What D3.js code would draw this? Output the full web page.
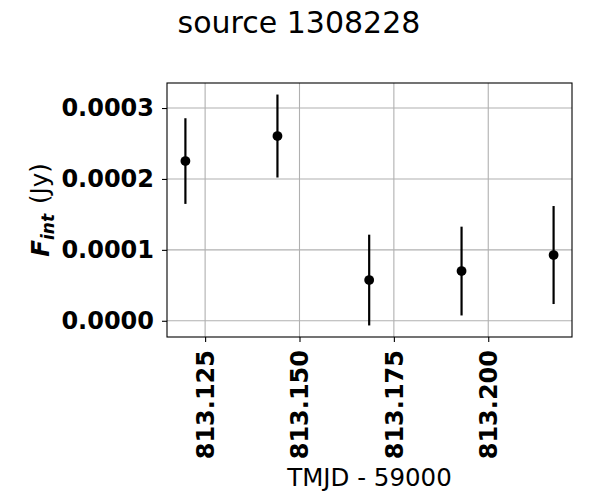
<!DOCTYPE html>
<html>
<head>
<meta charset="utf-8">
<script src="https://cdn.jsdelivr.net/npm/d3@7"></script>
<style>
  body { margin: 0; background: #fff; }
  svg, svg text { font-family: "DejaVu Sans", sans-serif; }
</style>
</head>
<body>
<script>
// data (time in TMJD - 59000, flux in Jy)
var times  = [813.11978, 813.14416, 813.16846, 813.19293, 813.21731];
var fluxes = [0.0002252, 0.0002605, 0.0000574, 0.0000701, 0.0000927];
var errors = [0.0000604, 0.0000585, 0.0000640, 0.0000626, 0.0000691];
var xTicks = [813.125, 813.150, 813.175, 813.200];
var yTicks = [0.0000, 0.0001, 0.0002, 0.0003];

var data = times.map(function(t, i) {
  return {t: t, f: fluxes[i], e: errors[i]};
});

// set the dimensions and margins of the graph
var full_width = 600, full_height = 500;
var margin = {top: 83, right: 28, bottom: 163, left: 167};
var width = full_width - margin.left - margin.right,
    height = full_height - margin.top - margin.bottom;

var svg = d3.select("body").append("svg")
  .attr("width", full_width)
  .attr("height", full_height);

var g = svg.append("g")
  .attr("transform", "translate(" + margin.left + "," + margin.top + ")");

// matplotlib style 5% padding
var xMin = d3.min(times), xMax = d3.max(times);
var xPad = (xMax - xMin) * 0.05;
var yMin = d3.min(data, function(d) { return d.f - d.e; });
var yMax = d3.max(data, function(d) { return d.f + d.e; });
var yPad = (yMax - yMin) * 0.05;

var x = d3.scaleLinear().domain([xMin - xPad, xMax + xPad]).range([0, width]);
var y = d3.scaleLinear().domain([yMin - yPad, yMax + yPad]).range([height, 0]);

// grid
g.append("g").selectAll("line").data(xTicks).enter().append("line")
  .attr("x1", function(d) { return x(d); }).attr("x2", function(d) { return x(d); })
  .attr("y1", 0).attr("y2", height)
  .attr("stroke", "#b0b0b0").attr("stroke-width", 1.1);
g.append("g").selectAll("line").data(yTicks).enter().append("line")
  .attr("y1", function(d) { return y(d); }).attr("y2", function(d) { return y(d); })
  .attr("x1", 0).attr("x2", width)
  .attr("stroke", "#b0b0b0").attr("stroke-width", 1.1);

// axes
var x_axis = d3.axisBottom(x).tickValues(xTicks).tickFormat(d3.format(".3f"))
  .tickSizeInner(5).tickSizeOuter(0).tickPadding(6);
var xAxis = g.append("g")
  .attr("transform", "translate(0," + height + ")")
  .call(x_axis);
xAxis.select(".domain").remove();
xAxis.selectAll("text")
  .attr("transform", "rotate(-90)")
  .attr("x", -13).attr("y", 0).attr("dy", "0.35em")
  .style("text-anchor", "end");

var y_axis = d3.axisLeft(y).tickValues(yTicks).tickFormat(d3.format(".4f"))
  .tickSizeInner(5).tickSizeOuter(0).tickPadding(8);
var yAxis = g.append("g").call(y_axis);
yAxis.select(".domain").remove();

g.selectAll(".tick line").attr("stroke", "#000").attr("stroke-width", 1.1);
g.selectAll(".tick text")
  .attr("fill", "#000")
  .style("font-family", "'DejaVu Sans', sans-serif")
  .style("font-size", "24px")
  .style("font-weight", "bold");

// frame
g.append("rect")
  .attr("width", width).attr("height", height)
  .attr("fill", "none").attr("stroke", "#000").attr("stroke-width", 1.1);

// error bars
g.append("g").selectAll("line").data(data).enter().append("line")
  .attr("x1", function(d) { return x(d.t); }).attr("x2", function(d) { return x(d.t); })
  .attr("y1", function(d) { return y(d.f - d.e); })
  .attr("y2", function(d) { return y(d.f + d.e); })
  .attr("stroke", "#000").attr("stroke-width", 2.2);

// points
g.append("g").selectAll("circle").data(data).enter().append("circle")
  .attr("cx", function(d) { return x(d.t); })
  .attr("cy", function(d) { return y(d.f); })
  .attr("r", 4.9)
  .attr("fill", "#000");

// title
svg.append("text")
  .attr("x", 299).attr("y", 33)
  .attr("text-anchor", "middle")
  .style("font-size", "30px")
  .text("source 1308228");

// x label
svg.append("text")
  .attr("x", margin.left + width / 2).attr("y", 486)
  .attr("text-anchor", "middle")
  .style("font-size", "24.5px")
  .text("TMJD - 59000");

// y label
var ylab = svg.append("text")
  .attr("transform", "translate(49," + (margin.top + height / 2) + ") rotate(-90)")
  .attr("text-anchor", "middle")
  .style("font-size", "24.5px");
ylab.append("tspan").style("font-weight", "bold").style("font-style", "italic").text("F");
ylab.append("tspan").style("font-weight", "bold").style("font-style", "italic")
  .style("font-size", "17px").attr("dy", "0.3em").text("int");
ylab.append("tspan").attr("dy", "-0.25em").text("\u2009\u2009(Jy)");
</script>
</body>
</html>
